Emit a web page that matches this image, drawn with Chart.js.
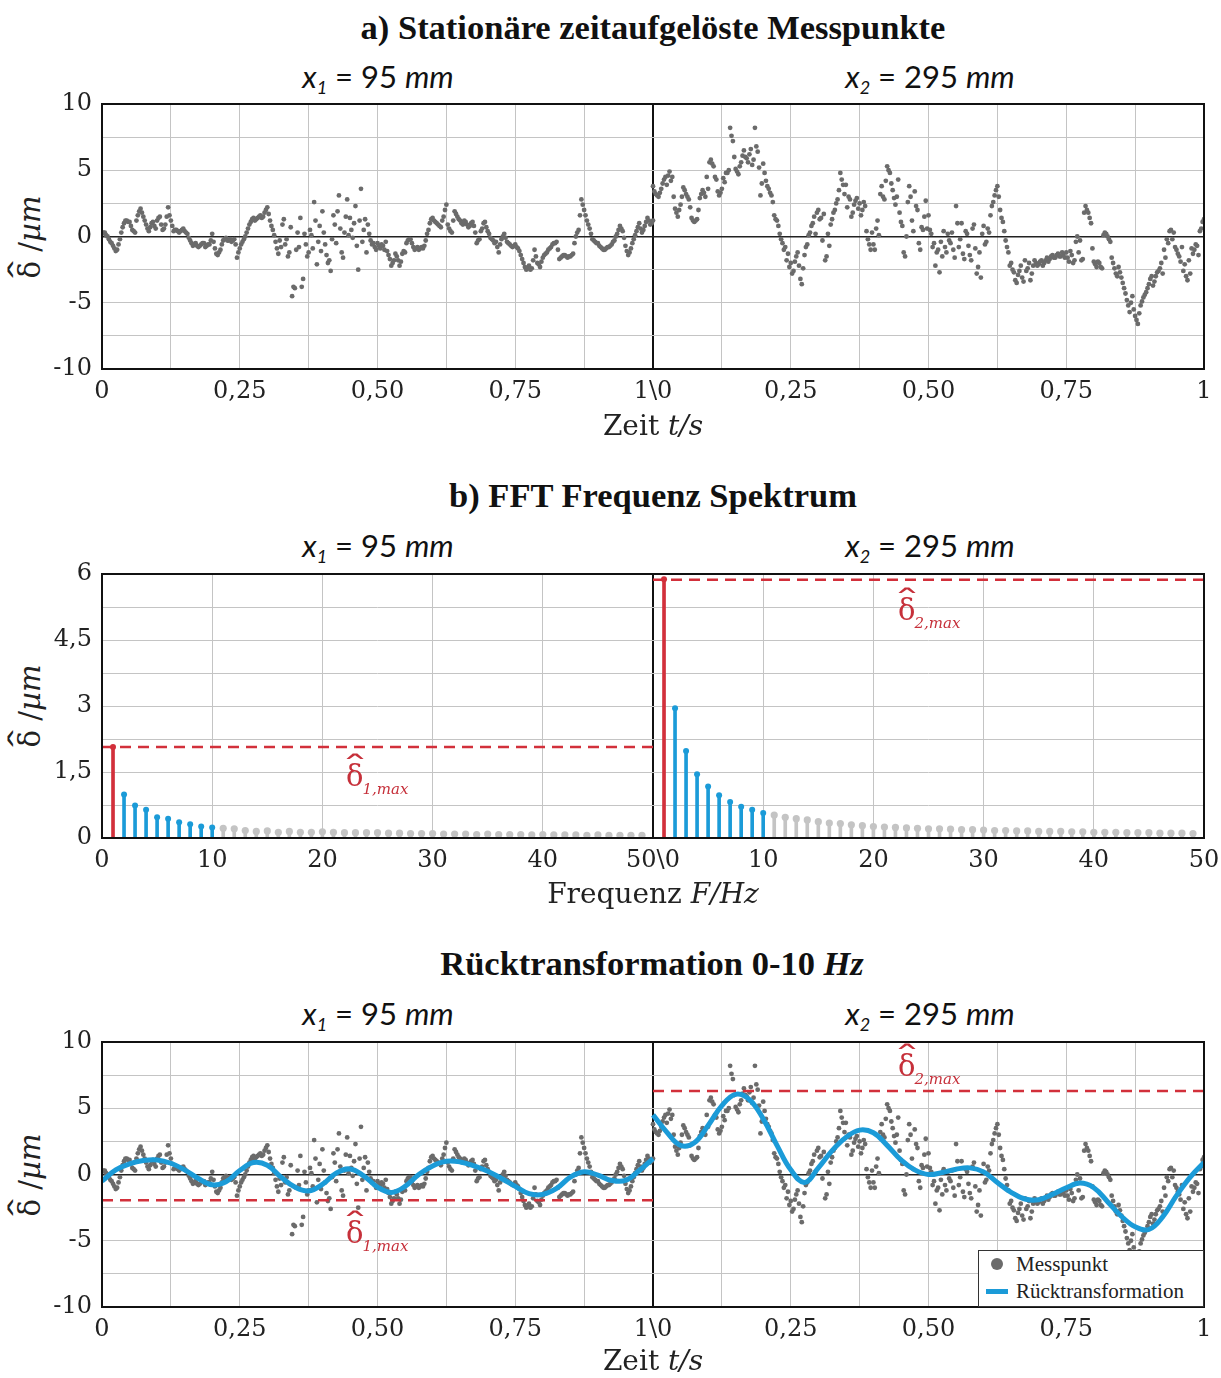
<!DOCTYPE html>
<html>
<head>
<meta charset="utf-8">
<script src="https://cdn.jsdelivr.net/npm/chart.js@4.4.1/dist/chart.umd.min.js"></script>
<style>
  body { margin: 0; background: #fff; width: 1221px; height: 1378px; position: relative; overflow: hidden; }
  canvas { position: absolute; left: 0; }
  .txt { position: absolute; white-space: nowrap; transform: translate(-50%, -50%); color: #111; }
  .titel { font-family: 'Liberation Serif', serif; font-weight: bold; font-size: 34.5px; }
  .unter { font-family: Lato, sans-serif; font-size: 31px; }
  .unter sub { font-size: 18px; font-style: italic; vertical-align: -6px; }
  .achse { font-family: 'DejaVu Serif', serif; font-size: 28px; color: #222; }
  .yachse { font-family: 'DejaVu Serif', serif; font-size: 29px; color: #222; transform: translate(-50%, -50%) rotate(-90deg); }
  .d { position: relative; display: inline-block; }
  .hut { position: absolute; left: 50%; top: -0.3em; font-size: 1em; transform: translateX(-50%) scaleX(1.9); font-style: normal; }
  .anno { position: absolute; white-space: nowrap; transform: translateY(-50%); font-family: 'DejaVu Serif', serif; font-size: 29px; color: #c6303a; line-height: 1; }
  .anno sub { font-size: 15px; font-style: italic; vertical-align: -8px; margin-left: -1px; }
  .legende { position: absolute; left: 978px; top: 1250px; width: 224px; height: 55px; border: 1.5px solid #333; background: #fff;
             font-family: 'Liberation Serif', serif; font-size: 21px; color: #222; }
  .legende div { position: absolute; left: 37px; }
  .punkt { position: absolute; left: 12px; top: 7px; width: 12px; height: 12px; border-radius: 50%; background: #6b6b6b; }
  .strich { position: absolute; left: 7px; top: 38px; width: 22px; height: 5px; background: #1b9bd8; }
</style>
</head>
<body>

<div class="txt titel" style="left:653px; top:27px">a) Stationäre zeitaufgelöste Messpunkte</div>
<div class="txt unter" style="left:378px; top:77px"><i>x</i><sub>1</sub> = 95 <i>mm</i></div>
<div class="txt unter" style="left:930px; top:77px"><i>x</i><sub>2</sub> = 295 <i>mm</i></div>
<div class="txt yachse" style="left:30px; top:237px"><span class="d">δ<span class="hut">ˆ</span></span> /<i>µm</i></div>
<canvas id="zeitChart" width="1221" height="320" style="top:90px"></canvas>
<div class="txt achse" style="left:653px; top:425px">Zeit <i>t/s</i></div>

<div class="txt titel" style="left:653px; top:495px">b) FFT Frequenz Spektrum</div>
<div class="txt unter" style="left:378px; top:546px"><i>x</i><sub>1</sub> = 95 <i>mm</i></div>
<div class="txt unter" style="left:930px; top:546px"><i>x</i><sub>2</sub> = 295 <i>mm</i></div>
<div class="txt yachse" style="left:30px; top:706px"><span class="d">δ<span class="hut">ˆ</span></span> /<i>µm</i></div>
<canvas id="fftChart" width="1221" height="320" style="top:560px"></canvas>
<div class="txt achse" style="left:653px; top:893px">Frequenz <i>F/Hz</i></div>
<div class="anno" style="left:346px; top:779px"><span class="d">δ<span class="hut">ˆ</span></span><sub>1,max</sub></div>
<div class="anno" style="left:898px; top:613px"><span class="d">δ<span class="hut">ˆ</span></span><sub>2,max</sub></div>

<div class="txt titel" style="left:652px; top:963px">Rücktransformation 0-10 <i>Hz</i></div>
<div class="txt unter" style="left:378px; top:1014px"><i>x</i><sub>1</sub> = 95 <i>mm</i></div>
<div class="txt unter" style="left:930px; top:1014px"><i>x</i><sub>2</sub> = 295 <i>mm</i></div>
<div class="txt yachse" style="left:30px; top:1175px"><span class="d">δ<span class="hut">ˆ</span></span> /<i>µm</i></div>
<canvas id="rueckChart" width="1221" height="320" style="top:1028px"></canvas>
<div class="txt achse" style="left:653px; top:1360px">Zeit <i>t/s</i></div>
<div class="anno" style="left:346px; top:1236px"><span class="d">δ<span class="hut">ˆ</span></span><sub>1,max</sub></div>
<div class="anno" style="left:898px; top:1069px"><span class="d">δ<span class="hut">ˆ</span></span><sub>2,max</sub></div>
<div class="legende">
  <span class="punkt"></span><div style="top:1px">Messpunkt</div>
  <span class="strich"></span><div style="top:28px">Rücktransformation</div>
</div>

<script>
// Abtastschritt der Messpunkte in s (Reihe B liegt jeweils um dt/2 versetzt)
const dt = 0.005;

// Messpunkte x1 = 95 mm, t = i*dt
const messLinks = [
  0.2, 0.3, 0.0, -0.4, -0.7, -1.1, -0.6, 0.3, 1.0, 1.2,
  1.1, 0.5, 0.3, 1.6, 2.1, 1.5, 0.9, 0.4, 1.0, 0.8,
  1.2, 1.5, 0.5, 0.9, 2.2, 1.2, 0.4, 0.5, 0.3, 0.5,
  0.4, 0.2, -0.3, -0.7, -0.5, -0.8, -0.6, -0.5, -0.7, -0.6,
  0.2, -0.9, -1.4, -1.0, -0.3, -0.1, -0.3, -0.4, -0.2, -1.6,
  -0.9, -0.4, 0.0, 0.6, 1.1, 1.4, 1.3, 1.5, 1.4, 1.8,
  2.2, 1.2, 0.5, -0.4, -1.3, -0.8, 1.3, -0.2, -1.2, -4.5,
  -3.9, 0.3, 1.4, -3.2, -0.6, -1.2, 0.1, 2.6, -2.1, 0.8,
  1.9, -0.6, -2.0, -2.6, 1.6, -0.5, 3.1, -1.2, 0.3, 2.8,
  1.4, -0.1, 2.3, -2.5, 3.6, 0.5, -1.2, 0.2, -0.6, -0.8,
  -0.5, -0.9, -0.7, -0.4, -1.4, -2.2, -1.8, -1.5, -2.2, -1.3,
  -1.2, -0.3, -0.2, -0.8, -0.9, -1.0, -0.8, -0.7, 0.2, 1.0,
  1.4, 1.1, 0.9, 0.7, 1.5, 2.4, 0.6, 0.3, 1.9, 1.5,
  1.2, 0.9, 1.1, 0.7, 1.0, 0.8, -0.5, -0.2, 0.6, 1.1,
  0.4, -0.1, -0.3, -0.4, -1.2, -0.2, 0.2, -0.4, -0.6, -0.8,
  -0.6, -0.9, -1.4, -2.0, -2.5, -2.2, -2.4, -1.0, -2.0, -2.3,
  -1.6, -1.3, -1.0, -0.8, -0.5, -0.4, -1.7, -1.5, -1.4, -1.6,
  -1.5, -1.3, 0.0, 0.5, 2.8, 2.0, 1.2, 0.6, -0.2, -0.4,
  -0.5, -0.8, -1.0, -0.9, -0.8, -0.6, -0.3, 0.2, 0.8, 0.4,
  -0.7, -1.4, -0.9, -0.2, 0.4, 1.0, 0.3, 0.8, 1.4, 0.9, 1.2
];
// Messpunkte x1 = 95 mm, t = (i+0.5)*dt
const messLinksB = [
  0.3, 0.1, -0.2, -0.5, -0.9, -1.0, -0.2, 0.7, 1.2, 1.1,
  0.8, 0.4, 1.2, 1.9, 1.8, 1.2, 0.6, 0.7, 1.1, 0.6,
  1.4, 0.9, 0.6, 1.5, 1.6, 0.8, 0.5, 0.4, 0.4, 0.6,
  0.3, -0.1, -0.5, -0.6, -0.7, -0.7, -0.5, -0.8, -0.6, -0.3,
  -0.4, -1.3, -1.2, -0.6, -0.2, -0.3, -0.2, -0.3, -0.6, -1.2,
  -0.6, -0.2, 0.3, 0.9, 1.3, 1.2, 1.4, 1.6, 1.5, 2.0,
  1.7, 0.8, 0.1, -0.9, -0.3, 0.9, -0.6, -1.5, 0.7, -3.8,
  -1.0, -0.8, -3.8, 0.2, -1.5, 0.5, -0.9, 1.2, -0.4, -1.1,
  0.3, -1.4, -1.8, -0.2, 0.9, 1.9, 0.6, -1.6, 1.5, 0.1,
  0.5, 1.0, -0.7, 1.2, -0.4, 1.3, 0.9, -0.3, -0.5, -1.0,
  -0.7, -0.6, -1.0, -1.1, -1.7, -2.0, -1.3, -1.8, -1.9, -1.1,
  -0.5, -0.2, -0.5, -1.0, -0.8, -0.9, -0.9, -0.3, 0.5, 1.3,
  1.2, 1.0, 0.8, 1.2, 2.0, 0.9, 0.4, 1.2, 1.7, 1.3,
  1.0, 1.2, 0.9, 0.8, 1.1, 0.3, -0.3, 0.4, 1.0, 0.7,
  0.2, -0.2, -0.5, -0.8, -0.6, 0.0, -0.1, -0.5, -0.7, -0.7,
  -0.8, -1.1, -1.7, -2.3, -2.4, -2.5, -1.8, -1.5, -2.1, -1.9,
  -1.4, -1.2, -0.9, -0.6, -0.5, -1.0, -1.6, -1.4, -1.5, -1.5,
  -1.4, -0.5, 0.3, 1.6, 2.4, 1.6, 0.9, 0.2, -0.3, -0.5,
  -0.7, -0.9, -1.0, -0.8, -0.7, -0.4, 0.0, 0.5, 0.6, -0.1,
  -1.1, -1.2, -0.5, 0.1, 0.7, 0.6, 0.5, 1.1, 1.2, 1.0
];

// Messpunkte x2 = 295 mm, t = i*dt
const messRechts = [
  3.8, 3.2, 3.0, 3.6, 4.3, 3.9, 4.9, 4.5, 2.1, 1.5,
  2.4, 3.7, 3.2, 2.8, 1.4, 1.1, 1.3, 2.9, 3.5, 3.0,
  3.6, 5.8, 5.3, 4.3, 3.1, 3.6, 4.1, 4.8, 8.2, 7.2,
  5.1, 4.7, 5.6, 6.5, 5.9, 6.2, 5.4, 8.2, 6.4, 3.1,
  5.5, 4.2, 3.6, 3.1, 1.6, 1.2, 0.2, -0.5, -0.8, -1.3,
  -2.0, -2.6, -1.5, -2.2, -3.6, -1.4, -0.6, 0.3, 1.0, 0.2,
  2.0, 1.4, 1.7, -1.5, -0.7, 1.3, 2.0, 2.8, 4.8, 3.9,
  3.9, 3.0, 1.5, 2.4, 2.9, 2.5, 2.0, 2.3, -0.2, -1.0,
  -0.6, 0.6, 0.1, 3.8, 2.8, 5.3, 4.8, 3.5, 2.4, 4.3,
  1.1, -1.2, 0.0, 3.8, 1.2, 3.4, 2.0, -1.0, 0.5, 2.7,
  1.6, 0.2, -0.5, -1.2, -2.7, -1.5, -0.8, 0.2, -0.5, -1.0,
  2.3, -0.8, 1.0, -1.7, 0.2, -1.4, 0.6, -0.9, -2.3, -3.1,
  0.8, -0.4, 0.3, 2.3, 3.1, 3.8, 2.0, 1.1, -0.3, -1.2,
  -2.0, -2.7, -3.5, -2.6, -3.1, -1.8, -2.4, -3.3, -2.2, -2.0,
  -2.1, -1.8, -2.0, -1.6, -1.7, -1.4, -1.6, -1.3, -1.5, -1.4,
  -1.2, -1.9, -1.4, -1.8, 0.0, -0.3, -1.7, 2.3, 1.8, 1.0,
  -1.9, -2.3, -2.0, -2.4, 0.3, 0.0, -0.4, -2.0, -2.8, -2.3,
  -3.1, -3.9, -4.8, -5.7, -4.5, -6.0, -6.6, -5.2, -4.6, -4.2,
  -3.6, -3.0, -3.4, -2.7, -2.4, -2.8, -1.6, -0.5, 0.5, 0.3,
  -1.0, -1.5, -0.8, -2.1, -3.3, -2.8, -1.3, -0.6, -1.4, 0.6, 1.3
];
// Messpunkte x2 = 295 mm, t = (i+0.5)*dt
const messRechtsB = [
  3.4, 3.1, 3.3, 4.0, 4.5, 4.6, 4.2, 3.0, 1.8, 2.0,
  3.0, 3.5, 3.0, 2.2, 1.2, 1.2, 2.0, 3.2, 3.3, 4.5,
  5.6, 5.5, 4.5, 3.4, 3.3, 4.4, 4.8, 5.0, 7.6, 6.0,
  4.9, 5.3, 6.1, 6.0, 5.6, 6.6, 5.8, 6.8, 5.2, 4.0,
  4.8, 3.8, 3.3, 2.6, 1.3, 0.8, -0.2, -1.0, -1.8, -2.3,
  -2.8, -1.9, -1.2, -3.2, -2.4, -0.8, 0.1, 0.8, 1.5, 1.8,
  1.3, -0.3, -1.8, 0.2, 0.9, 1.8, 2.5, 3.5, 4.3, 3.2,
  2.2, 2.8, 1.8, 2.7, 2.1, 1.6, 2.6, 0.4, -0.6, 0.3,
  -1.0, 1.2, 3.2, 3.0, 4.2, 5.0, 4.0, 2.9, 3.0, 1.8,
  0.8, -1.5, 2.6, 3.0, 0.4, 2.3, -0.5, 0.7, 1.5, 0.6,
  0.5, -0.8, -2.2, -1.0, -0.4, 0.4, -1.2, -0.3, 0.3, -1.6,
  1.0, -0.2, -1.3, 0.4, -0.7, -1.8, 0.9, -2.8, -1.2, 0.2,
  -0.6, 0.6, 1.6, 2.6, 3.5, 3.0, 1.4, 0.4, -0.8, -2.2,
  -2.5, -3.3, -2.9, -2.2, -3.4, -2.6, -2.0, -2.8, -1.8, -2.2,
  -1.9, -2.2, -1.8, -1.9, -1.5, -1.6, -1.4, -1.5, -1.2, -1.6,
  -1.6, -1.1, -2.0, -0.4, -1.2, -1.8, 1.8, 2.0, 1.4, -0.9,
  -2.1, -1.9, -2.3, 0.1, 0.2, -0.2, -1.6, -2.4, -3.0, -2.7,
  -3.5, -4.3, -5.2, -5.0, -5.5, -6.3, -5.8, -4.9, -4.4, -3.9,
  -3.2, -3.7, -3.0, -2.6, -2.0, -1.0, -0.2, 0.4, -0.2, -0.8,
  -1.3, -1.9, -2.6, -3.0, -1.8, -0.9, -1.0, -0.7, 0.4, 1.1
];

// FFT Spektrum
const frequenzen = [
  1, 2, 3, 4, 5, 6, 7, 8, 9, 10, 11, 12, 13, 14, 15, 16, 17, 18, 19, 20,
  21, 22, 23, 24, 25, 26, 27, 28, 29, 30, 31, 32, 33, 34, 35, 36, 37, 38, 39, 40,
  41, 42, 43, 44, 45, 46, 47, 48, 49
];
const ampLinks = [
  2.07, 0.99, 0.74, 0.64, 0.47, 0.44, 0.36, 0.31, 0.26, 0.24,
  0.22, 0.21, 0.17, 0.15, 0.16, 0.13, 0.15, 0.13, 0.13, 0.14,
  0.13, 0.12, 0.12, 0.12, 0.12, 0.11, 0.11, 0.10, 0.10, 0.10,
  0.09, 0.09, 0.09, 0.08, 0.09, 0.08, 0.08, 0.08, 0.07, 0.08,
  0.07, 0.07, 0.07, 0.06, 0.07, 0.06, 0.06, 0.06, 0.06
];
const ampRechts = [
  5.88, 2.95, 1.98, 1.45, 1.17, 0.97, 0.82, 0.71, 0.64, 0.57,
  0.52, 0.47, 0.44, 0.41, 0.37, 0.34, 0.33, 0.30, 0.28, 0.26,
  0.25, 0.24, 0.23, 0.22, 0.21, 0.21, 0.20, 0.19, 0.19, 0.18,
  0.17, 0.17, 0.16, 0.16, 0.15, 0.15, 0.15, 0.14, 0.14, 0.13,
  0.13, 0.13, 0.12, 0.12, 0.12, 0.11, 0.11, 0.11, 0.10
];
const d1Max = 2.07;
const d2Max = 5.87;

// Rücktransformation 0-10 Hz
const zeitRueck = [
  0, 0.025, 0.05, 0.075, 0.1, 0.125, 0.15, 0.175, 0.2, 0.225,
  0.25, 0.275, 0.3, 0.325, 0.35, 0.375, 0.4, 0.425, 0.45, 0.475,
  0.5, 0.525, 0.55, 0.575, 0.6, 0.625, 0.65, 0.675, 0.7, 0.725,
  0.75, 0.775, 0.8, 0.825, 0.85, 0.875, 0.9, 0.925, 0.95, 0.975, 1
];
const rueckLinks = [
  -0.5, 0.35, 0.8, 1.05, 1.1, 0.85, 0.35, -0.3, -0.78, -0.55,
  0.3, 0.9, 0.7, -0.2, -0.95, -1.25, -0.75, 0.1, 0.42, -0.1,
  -0.95, -1.35, -0.9, 0.0, 0.65, 1.0, 0.95, 0.65, 0.25, -0.3,
  -0.9, -1.45, -1.5, -1.05, -0.2, 0.2, -0.05, -0.45, -0.45, 0.3, 1.2
];
const rueckRechts = [
  4.5, 3.2, 2.2, 2.4, 3.7, 5.2, 6.05, 5.65, 4.2, 2.2,
  0.35, -0.6, 0.5, 1.8, 2.8, 3.35, 3.15, 2.2, 1.1, 0.35,
  0.0, 0.15, 0.4, 0.5, 0.2, -0.6, -1.35, -1.85, -1.9, -1.5,
  -1.0, -0.65, -1.0, -2.05, -3.15, -3.95, -4.15, -3.2, -1.6, -0.2, 0.9
];
const d1MaxRueck = -1.95;
const d2MaxRueck = 6.3;

const rot = '#d2303b';
const blau = '#1b9bd8';
const grauPunkt = '#6b6b6b';
const grauStem = '#c4c4c4';
const gitter = '#c4c4c4';
const tickFont = { family: 'DejaVu Serif', size: 24, lineHeight: 1.1 };

// Rahmen um die Plotfläche
const rahmen = {
  id: 'rahmen',
  afterDatasetsDraw(chart) {
    const { ctx, chartArea: a } = chart;
    ctx.save();
    ctx.strokeStyle = '#111';
    ctx.lineWidth = 2;
    ctx.strokeRect(a.left, a.top, a.right - a.left, a.bottom - a.top);
    ctx.restore();
  }
};

function zeitPunkte(werte, start) {
  return werte.map((v, i) => ({ x: start + i * dt, y: v }));
}

function kurve(zeiten, werte, versatz) {
  return zeiten.map((t, i) => ({ x: t + versatz, y: werte[i] }));
}

function zeitLabel(v) {
  if (Math.abs(v * 4 - Math.round(v * 4)) > 1e-6) return '';
  if (v === 1) return '1\\0';
  let w = v > 1 ? v - 1 : v;
  if (w === 0) return '0';
  if (w === 1) return '1';
  return w.toFixed(2).replace('.', ',');
}

function xAchse(max, schritt, mitte, label, hoehe) {
  return {
    type: 'linear', min: 0, max: max, offset: false,
    afterFit: s => { s.height = hoehe; s.paddingLeft = 0; s.paddingRight = 0; },
    ticks: { stepSize: schritt, autoSkip: false, maxRotation: 0, padding: 10, color: '#222', font: tickFont, callback: label },
    grid: {
      drawTicks: false, offset: false,
      color: c => (c.tick && c.tick.value === mitte) ? '#111' : gitter,
      lineWidth: c => (c.tick && c.tick.value === mitte) ? 2 : 1
    },
    border: { display: false }
  };
}

function yAchse(min, max, schritt, labelSchritt, nullLinie) {
  return {
    min: min, max: max,
    afterFit: s => { s.width = 102; s.paddingTop = 0; s.paddingBottom = 0; },
    ticks: {
      stepSize: schritt, autoSkip: false, padding: 10, color: '#222', font: tickFont,
      callback: v => {
        if (Math.abs(v / labelSchritt - Math.round(v / labelSchritt)) > 1e-6) return '';
        return String(Math.round(v * 100) / 100).replace('.', ',');
      }
    },
    grid: {
      drawTicks: false,
      color: c => (nullLinie && c.tick && c.tick.value === 0) ? '#222' : gitter,
      lineWidth: c => (nullLinie && c.tick && c.tick.value === 0) ? 1.5 : 1
    },
    border: { display: false }
  };
}

function messDatensaetze() {
  const punkte = zeitPunkte(messLinks, 0)
    .concat(zeitPunkte(messLinksB, dt / 2))
    .concat(zeitPunkte(messRechts, 1))
    .concat(zeitPunkte(messRechtsB, 1 + dt / 2));
  return [
    { type: 'scatter', data: punkte, pointRadius: 2.4, pointBackgroundColor: grauPunkt, pointBorderWidth: 0, order: 3 }
  ];
}

function gestrichelt(x0, x1, y) {
  return {
    type: 'line', data: [{ x: x0, y: y }, { x: x1, y: y }],
    borderColor: rot, borderWidth: 2.5, borderDash: [11, 7], pointRadius: 0, order: 2
  };
}

const basis = {
  responsive: false,
  devicePixelRatio: 1,
  animation: false,
  layout: { padding: { top: 14, right: 17, left: 0, bottom: 0 } },
  plugins: { legend: { display: false }, tooltip: { enabled: false } }
};

// a) Stationäre zeitaufgelöste Messpunkte
new Chart(document.getElementById('zeitChart'), {
  type: 'scatter',
  data: { datasets: messDatensaetze() },
  options: Object.assign({}, basis, {
    scales: {
      x: xAchse(2, 0.125, 1, zeitLabel, 41),
      y: yAchse(-10, 10, 2.5, 5, true)
    }
  }),
  plugins: [rahmen]
});

// b) FFT Frequenz Spektrum
function stemFarbe(f) {
  return f === 1 ? rot : (f <= 10 ? blau : grauStem);
}
const stems = frequenzen.map((f, i) => ({ x: f, y: ampLinks[i], f: f }))
  .concat(frequenzen.map((f, i) => ({ x: f + 50, y: ampRechts[i], f: f })));

new Chart(document.getElementById('fftChart'), {
  type: 'bar',
  data: {
    datasets: [
      { type: 'bar', data: stems, barThickness: 3, grouped: false,
        backgroundColor: c => stemFarbe(c.raw.f), order: 3 },
      { type: 'scatter', data: stems, pointBorderWidth: 0,
        pointRadius: c => c.raw.f > 10 ? 3.6 : 3,
        pointBackgroundColor: c => stemFarbe(c.raw.f), order: 3 },
      gestrichelt(0, 50, d1Max),
      gestrichelt(50, 100, d2Max)
    ]
  },
  options: Object.assign({}, basis, {
    scales: {
      x: xAchse(100, 10, 50, v => v === 50 ? '50\\0' : String(v > 50 ? v - 50 : v), 42),
      y: yAchse(0, 6, 0.75, 1.5, false)
    }
  }),
  plugins: [rahmen]
});

// Rücktransformation 0-10 Hz
const rueckSets = messDatensaetze().concat([
  gestrichelt(0, 1, d1MaxRueck),
  gestrichelt(1, 2, d2MaxRueck),
  { type: 'line', data: kurve(zeitRueck, rueckLinks, 0), borderColor: blau, borderWidth: 5, tension: 0.4, pointRadius: 0, order: 1 },
  { type: 'line', data: kurve(zeitRueck, rueckRechts, 1), borderColor: blau, borderWidth: 5, tension: 0.4, pointRadius: 0, order: 1 }
]);

new Chart(document.getElementById('rueckChart'), {
  type: 'scatter',
  data: { datasets: rueckSets },
  options: Object.assign({}, basis, {
    scales: {
      x: xAchse(2, 0.125, 1, zeitLabel, 41),
      y: yAchse(-10, 10, 2.5, 5, true)
    }
  }),
  plugins: [rahmen]
});
</script>
</body>
</html>
